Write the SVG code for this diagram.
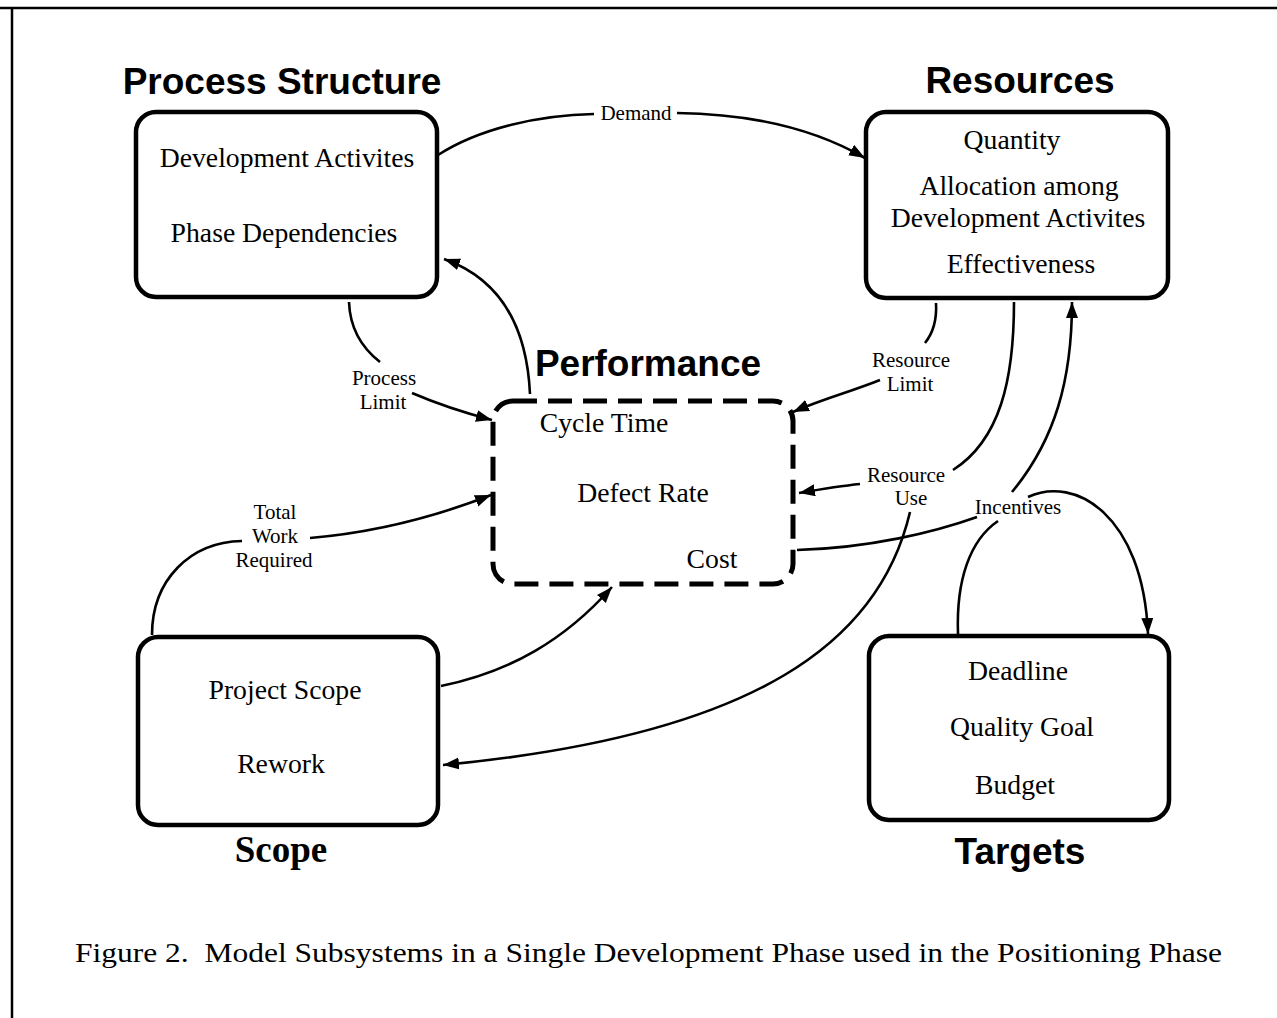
<svg xmlns="http://www.w3.org/2000/svg" width="1277" height="1018" viewBox="0 0 1277 1018">
<defs>
<marker id="ah" markerUnits="userSpaceOnUse" markerWidth="18" markerHeight="13" refX="16" refY="6" orient="auto">
<path d="M0,0 L16,6 L0,12 z" fill="#000"/>
</marker>
<style>
.box{fill:#fff;stroke:#000;stroke-width:4.5}
.dash{fill:#fff;stroke:#000;stroke-width:5;stroke-dasharray:24 11}
.t{font-family:"Liberation Serif","Times New Roman",serif;font-size:27.7px;text-anchor:middle;fill:#000}
.lb{font-family:"Liberation Serif","Times New Roman",serif;font-size:21px;text-anchor:middle;fill:#000}
.h{font-family:"Liberation Sans",Arial,sans-serif;font-weight:bold;font-size:37px;text-anchor:middle;fill:#000}
.hs{font-family:"Liberation Serif","Times New Roman",serif;font-weight:bold;font-size:37px;text-anchor:middle;fill:#000}
.c{fill:none;stroke:#000;stroke-width:2.6}
.ca{fill:none;stroke:#000;stroke-width:2.6;marker-end:url(#ah)}
</style>
</defs>
<rect width="1277" height="1018" fill="#fff"/>
<g id="border">
<line x1="0" y1="8" x2="1277" y2="8" stroke="#000" stroke-width="2.5"/>
<line x1="12" y1="8" x2="12" y2="1018" stroke="#000" stroke-width="2.5"/>
</g>
<g id="connectors">
<path class="c" d="M438,155 C480,128 540,115 594,114"/>
<path class="ca" d="M677,113 C760,114 820,132 865,158"/>
<path class="ca" d="M530,394 C527,330 503,280 444,259"/>
<path class="c" d="M349,302 C350,330 362,348 380,362"/>
<path class="ca" d="M412,393 C440,405 465,413 492,420"/>
<path class="c" d="M152,635 C152,580 190,542 242,541"/>
<path class="ca" d="M310,538 C380,532 440,515 491,495"/>
<path class="ca" d="M441,686 C510,672 565,640 612,587"/>
<path class="ca" d="M910,512 C880,640 760,735 443,765"/>
<path class="c" d="M936,303 C937,320 933,333 925,343"/>
<path class="ca" d="M880,380 C850,392 820,400 793,412"/>
<path class="c" d="M1014,302 C1014,380 1000,440 953,470"/>
<path class="ca" d="M860,484 C840,486 822,489 799,493"/>
<path class="ca" d="M1012,492 C1055,440 1072,380 1072,302"/>
<path class="c" d="M797,550 C870,548 935,532 977,517"/>
<path class="c" d="M958,634 C956,580 970,540 998,521"/>
<path class="ca" d="M1028,497 C1075,475 1143,515 1148,634"/>
<text class="lb" x="636" y="120">Demand</text>
<text class="lb" x="384" y="385">Process</text>
<text class="lb" x="383" y="409">Limit</text>
<text class="lb" x="275" y="519">Total</text>
<text class="lb" x="275" y="543">Work</text>
<text class="lb" x="274" y="567">Required</text>
<text class="lb" x="911" y="367">Resource</text>
<text class="lb" x="910" y="391">Limit</text>
<text class="lb" x="906" y="482">Resource</text>
<text class="lb" x="911" y="505">Use</text>
<text class="lb" x="1018" y="514">Incentives</text>
</g>
<g id="process-structure">
<text class="h" x="282" y="94">Process Structure</text>
<rect class="box" x="136" y="112" width="301" height="185" rx="20"/>
<text class="t" x="287" y="167">Development Activites</text>
<text class="t" x="284" y="242">Phase Dependencies</text>
</g>
<g id="resources">
<text class="h" x="1020" y="93">Resources</text>
<rect class="box" x="866" y="112" width="302" height="186" rx="20"/>
<text class="t" x="1012" y="149">Quantity</text>
<text class="t" x="1019" y="195">Allocation among</text>
<text class="t" x="1018" y="227">Development Activites</text>
<text class="t" x="1021" y="273">Effectiveness</text>
</g>
<g id="performance">
<text class="h" x="648" y="376">Performance</text>
<rect class="dash" x="493" y="401" width="300" height="183" rx="20"/>
<text class="t" x="604" y="432">Cycle Time</text>
<text class="t" x="643" y="502">Defect Rate</text>
<text class="t" x="712" y="568">Cost</text>
</g>
<g id="scope">
<rect class="box" x="138" y="637" width="300" height="188" rx="20"/>
<text class="t" x="285" y="699">Project Scope</text>
<text class="t" x="281" y="773">Rework</text>
<text class="hs" x="281" y="862">Scope</text>
</g>
<g id="targets">
<rect class="box" x="869" y="636" width="300" height="184" rx="20"/>
<text class="t" x="1018" y="680">Deadline</text>
<text class="t" x="1022" y="736">Quality Goal</text>
<text class="t" x="1015" y="794">Budget</text>
<text class="h" x="1020" y="864">Targets</text>
</g>
<g id="caption">
<text x="75" y="962" xml:space="preserve" font-family="Liberation Serif, Times New Roman, serif" font-size="28" textLength="1147" lengthAdjust="spacingAndGlyphs">Figure 2.  Model Subsystems in a Single Development Phase used in the Positioning Phase</text>
</g>
</svg>
